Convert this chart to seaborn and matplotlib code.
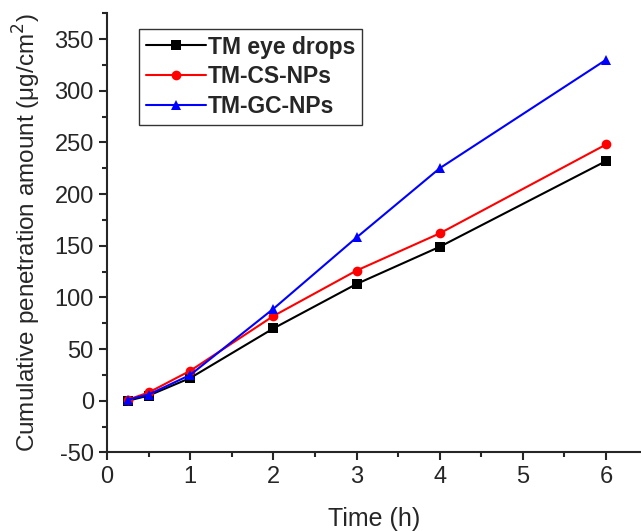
import numpy as np
import pandas as pd
import seaborn as sns
import matplotlib.pyplot as plt
from matplotlib.ticker import MultipleLocator

sns.set_style("ticks")
plt.rcParams['font.family'] = ['Liberation Sans', 'DejaVu Sans']
plt.rcParams['axes.unicode_minus'] = False

# data
time_h = [0.25, 0.5, 1, 2, 3, 4, 6]
eye_drops = [0, 5, 22, 70, 113, 149, 232]
cs_nps = [1, 8, 29, 82, 126, 162, 248]
gc_nps = [1, 6, 25, 89, 158, 225, 330]
series_names = ["TM eye drops", "TM-CS-NPs", "TM-GC-NPs"]

df = pd.DataFrame({
    "Time": time_h * 3,
    "Amount": eye_drops + cs_nps + gc_nps,
    "Group": np.repeat(series_names, len(time_h)),
})

fig, ax = plt.subplots(figsize=(6.41, 5.31), dpi=100)
sns.lineplot(data=df, x="Time", y="Amount", hue="Group", style="Group",
             palette=["black", "red", "blue"], markers=["s", "o", "^"],
             dashes=False, markersize=7, linewidth=1.5, markeredgewidth=0,
             ax=ax)

ax.set_xlim(0, 6.42)
ax.set_ylim(-50, 375)
ax.xaxis.set_major_locator(MultipleLocator(1))
ax.xaxis.set_minor_locator(MultipleLocator(0.5))
ax.yaxis.set_major_locator(MultipleLocator(50))
ax.yaxis.set_minor_locator(MultipleLocator(25))
ax.tick_params(which="major", length=6, width=1.5, labelsize=17, direction="out")
ax.tick_params(which="minor", length=3.5, width=1.5, direction="out")
for s in ["left", "bottom"]:
    ax.spines[s].set_linewidth(1.5)
sns.despine(ax=ax)

ax.set_xlabel("Time (h)", fontsize=18, labelpad=14)
ax.set_ylabel("Cumulative penetration amount (μg/cm$^2$)", fontsize=17.5, labelpad=8)

leg = ax.legend(loc="upper left", bbox_to_anchor=(0.06, 0.965), frameon=True,
                fancybox=False, edgecolor="black", prop={"weight": "bold", "size": 16.5},
                handlelength=2.6, handletextpad=0.1, borderpad=0.3, labelspacing=0.3,
                borderaxespad=0)
leg.get_frame().set_linewidth(1)

fig.subplots_adjust(left=0.167, right=1.0, top=0.975, bottom=0.148)
fig.savefig("out.png", dpi=100)
